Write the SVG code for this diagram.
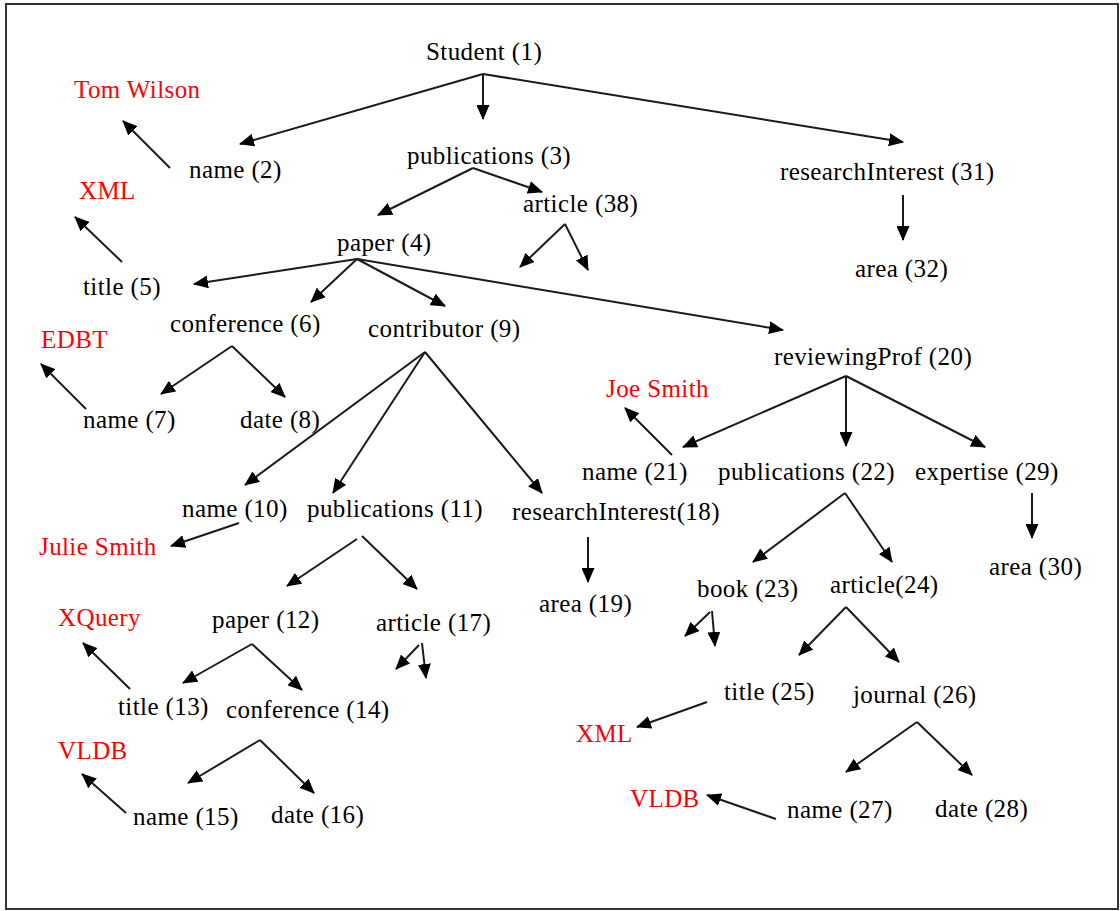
<svg xmlns="http://www.w3.org/2000/svg" width="1120" height="911" viewBox="0 0 1120 911">
  <style>
    .lbl { font-family: "Liberation Serif", "Times New Roman", serif; font-size: 25px; letter-spacing: 0.4px; fill: #000; }
    .val { font-family: "Liberation Serif", "Times New Roman", serif; font-size: 25px; letter-spacing: 0.4px; fill: #ff0000; }
    .edge { fill: none; stroke: #1a1a1a; stroke-width: 2; marker-end: url(#arrow); }
  </style>
  <defs>
    <marker id="arrow" markerUnits="userSpaceOnUse" markerWidth="15" markerHeight="13" refX="14" refY="6.5" orient="auto">
      <path d="M0,0 L15,6.5 L0,13 Z" fill="#000"/>
    </marker>
  </defs>

  <rect x="0" y="0" width="1120" height="911" fill="#fff"/>
  <!-- outer frame -->
  <rect x="6" y="4" width="1112" height="905" fill="none" stroke="#333" stroke-width="2"/>

  <g id="connectors">
    <!-- Student (1) -->
    <path class="edge" d="M483,74 L240,144"/>
    <path class="edge" d="M483,74 L483,119"/>
    <path class="edge" d="M483,74 L903,142"/>
    <!-- name (2) -->
    <path class="edge" d="M170,168 L123,121"/>
    <!-- publications (3) -->
    <path class="edge" d="M473,168 L378,215"/>
    <path class="edge" d="M473,168 L542,192"/>
    <!-- article (38) -->
    <path class="edge" d="M565,224 L520,267"/>
    <path class="edge" d="M565,224 L588,270"/>
    <!-- researchInterest (31) -->
    <path class="edge" d="M903,195 L903,240"/>
    <!-- paper (4) -->
    <path class="edge" d="M357,259 L194,284"/>
    <path class="edge" d="M357,259 L311,302"/>
    <path class="edge" d="M357,259 L445,306"/>
    <path class="edge" d="M357,259 L783,330"/>
    <!-- title (5) -->
    <path class="edge" d="M122,262 L75,217"/>
    <!-- conference (6) -->
    <path class="edge" d="M232,346 L161,394"/>
    <path class="edge" d="M232,346 L285,397"/>
    <!-- name (7) -->
    <path class="edge" d="M86,409 L41,364"/>
    <!-- contributor (9) -->
    <path class="edge" d="M425,352 L245,485"/>
    <path class="edge" d="M425,352 L333,493"/>
    <path class="edge" d="M425,352 L542,493"/>
    <!-- name (10) -->
    <path class="edge" d="M239,523 L171,546"/>
    <!-- publications (11) -->
    <path class="edge" d="M357,539 L287,586"/>
    <path class="edge" d="M362,536 L417,589"/>
    <!-- paper (12) -->
    <path class="edge" d="M252,644 L183,683"/>
    <path class="edge" d="M252,644 L302,690"/>
    <!-- article (17) -->
    <path class="edge" d="M419,645 L396,669"/>
    <path class="edge" d="M422,643 L426,678"/>
    <!-- title (13) -->
    <path class="edge" d="M130,689 L83,643"/>
    <!-- conference (14) -->
    <path class="edge" d="M260,740 L188,783"/>
    <path class="edge" d="M260,740 L314,793"/>
    <!-- name (15) -->
    <path class="edge" d="M126,813 L82,774"/>
    <!-- researchInterest (18) -->
    <path class="edge" d="M588,537 L588,582"/>
    <!-- reviewingProf (20) -->
    <path class="edge" d="M846,376 L683,447"/>
    <path class="edge" d="M846,376 L846,446"/>
    <path class="edge" d="M846,376 L985,447"/>
    <!-- name (21) -->
    <path class="edge" d="M672,455 L625,408"/>
    <!-- publications (22) -->
    <path class="edge" d="M845,493 L753,562"/>
    <path class="edge" d="M845,493 L892,562"/>
    <!-- expertise (29) -->
    <path class="edge" d="M1032,493 L1032,538"/>
    <!-- book (23) -->
    <path class="edge" d="M710,612 L685,636"/>
    <path class="edge" d="M712,611 L715,646"/>
    <!-- article (24) -->
    <path class="edge" d="M846,607 L799,655"/>
    <path class="edge" d="M846,607 L899,662"/>
    <!-- title (25) -->
    <path class="edge" d="M707,702 L637,727"/>
    <!-- journal (26) -->
    <path class="edge" d="M917,722 L846,772"/>
    <path class="edge" d="M917,722 L972,775"/>
    <!-- name (27) -->
    <path class="edge" d="M776,819 L707,795"/>
  </g>

  <g id="n1"><text class="lbl" x="426" y="60">Student (1)</text></g>
  <g id="n2"><text class="lbl" x="189" y="178">name (2)</text></g>
  <g id="v2"><text class="val" x="74" y="98">Tom Wilson</text></g>
  <g id="n3"><text class="lbl" x="407" y="164">publications (3)</text></g>
  <g id="n38"><text class="lbl" x="523" y="212">article (38)</text></g>
  <g id="n31"><text class="lbl" x="780" y="180">researchInterest (31)</text></g>
  <g id="n32"><text class="lbl" x="855" y="277">area (32)</text></g>
  <g id="n4"><text class="lbl" x="337" y="251">paper (4)</text></g>
  <g id="n5"><text class="lbl" x="83" y="295">title (5)</text></g>
  <g id="v5"><text class="val" x="79" y="199">XML</text></g>
  <g id="n6"><text class="lbl" x="170" y="332">conference (6)</text></g>
  <g id="n7"><text class="lbl" x="83" y="428">name (7)</text></g>
  <g id="v7"><text class="val" x="41" y="348">EDBT</text></g>
  <g id="n8"><text class="lbl" x="240" y="428">date (8)</text></g>
  <g id="n9"><text class="lbl" x="368" y="337">contributor (9)</text></g>
  <g id="n10"><text class="lbl" x="182" y="517">name (10)</text></g>
  <g id="v10"><text class="val" x="39" y="555">Julie Smith</text></g>
  <g id="n11"><text class="lbl" x="307" y="517">publications (11)</text></g>
  <g id="n12"><text class="lbl" x="212" y="628">paper (12)</text></g>
  <g id="n13"><text class="lbl" x="118" y="715">title (13)</text></g>
  <g id="v13"><text class="val" x="58" y="626">XQuery</text></g>
  <g id="n14"><text class="lbl" x="226" y="718">conference (14)</text></g>
  <g id="n15"><text class="lbl" x="133" y="825">name (15)</text></g>
  <g id="v15"><text class="val" x="58" y="759">VLDB</text></g>
  <g id="n16"><text class="lbl" x="271" y="823">date (16)</text></g>
  <g id="n17"><text class="lbl" x="376" y="631">article (17)</text></g>
  <g id="n18"><text class="lbl" x="512" y="520">researchInterest(18)</text></g>
  <g id="n19"><text class="lbl" x="539" y="612">area (19)</text></g>
  <g id="n20"><text class="lbl" x="774" y="365">reviewingProf (20)</text></g>
  <g id="n21"><text class="lbl" x="582" y="480">name (21)</text></g>
  <g id="v21"><text class="val" x="606" y="397">Joe Smith</text></g>
  <g id="n22"><text class="lbl" x="718" y="480">publications (22)</text></g>
  <g id="n29"><text class="lbl" x="915" y="480">expertise (29)</text></g>
  <g id="n30"><text class="lbl" x="989" y="575">area (30)</text></g>
  <g id="n23"><text class="lbl" x="697" y="597">book (23)</text></g>
  <g id="n24"><text class="lbl" x="830" y="593">article(24)</text></g>
  <g id="n25"><text class="lbl" x="724" y="700">title (25)</text></g>
  <g id="v25"><text class="val" x="576" y="742">XML</text></g>
  <g id="n26"><text class="lbl" x="853" y="703">journal (26)</text></g>
  <g id="n27"><text class="lbl" x="787" y="818">name (27)</text></g>
  <g id="v27"><text class="val" x="630" y="807">VLDB</text></g>
  <g id="n28"><text class="lbl" x="935" y="817">date (28)</text></g>
</svg>
